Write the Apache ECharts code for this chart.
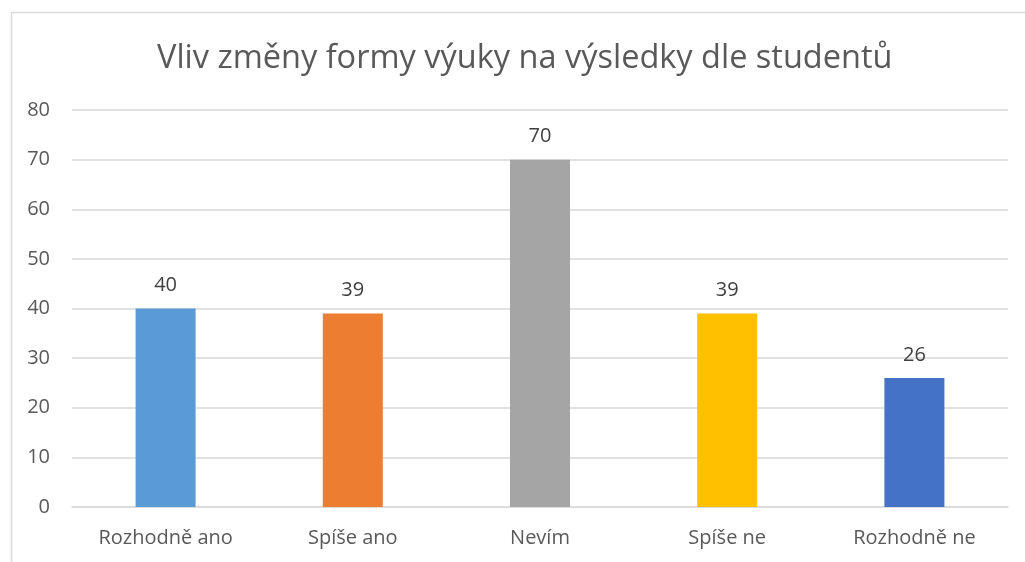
<!DOCTYPE html>
<html>
<head>
<meta charset="utf-8">
<script src="https://cdn.jsdelivr.net/npm/echarts@6/dist/echarts.min.js"></script>
<style>
  html, body { margin: 0; padding: 0; background: #fff; }
  #chart { width: 1025px; height: 562px; }
</style>
</head>
<body>
<div id="chart"></div>
<script>
// kategorie odpovědí
const categories = ["Rozhodně ano", "Spíše ano", "Nevím", "Spíše ne", "Rozhodně ne"];
// počty odpovědí
const values = [40, 39, 70, 39, 26];
// barvy sloupců
const barColors = ["#5B9BD5", "#ED7D31", "#A5A5A5", "#FFC000", "#4472C4"];

const font = "'Open Sans', 'Noto Sans', sans-serif";

const myChart = echarts.init(document.getElementById("chart"));
const option = {
  animation: false,
  textStyle: { fontFamily: font },
  title: {
    text: "Vliv změny formy výuky na výsledky dle studentů",
    left: 152,
    top: 37,
    textStyle: { fontFamily: font, fontSize: 32.5, fontWeight: "normal", color: "#595959" },
  },
  graphic: [
    {
      type: "rect",
      left: 9,
      top: 10,
      shape: { width: 1040, height: 580 },
      style: { fill: "none", stroke: "#D9D9D9", lineWidth: 1.5 },
      silent: true,
    },
  ],
  grid: { left: 72, right: 17, top: 110, bottom: 55, containLabel: false },
  xAxis: {
    type: "category",
    data: categories,
    axisLine: { show: true, lineStyle: { color: "#D9D9D9", width: 1.5 } },
    axisTick: { show: false },
    axisLabel: { color: "#595959", fontSize: 20, margin: 21, fontFamily: font },
  },
  yAxis: {
    type: "value",
    min: 0,
    max: 80,
    interval: 10,
    axisLine: { show: false },
    axisTick: { show: false },
    splitLine: { lineStyle: { color: "#D9D9D9", width: 1.5 } },
    axisLabel: { color: "#595959", fontSize: 20, margin: 22, fontFamily: font },
  },
  series: [
    {
      type: "bar",
      barWidth: 60,
      data: values.map((v, i) => ({ value: v, itemStyle: { color: barColors[i] } })),
      label: {
        show: true,
        position: "top",
        distance: 13,
        color: "#404040",
        fontSize: 20,
        fontFamily: font,
      },
    },
  ],
};
myChart.setOption(option);
</script>
</body>
</html>
